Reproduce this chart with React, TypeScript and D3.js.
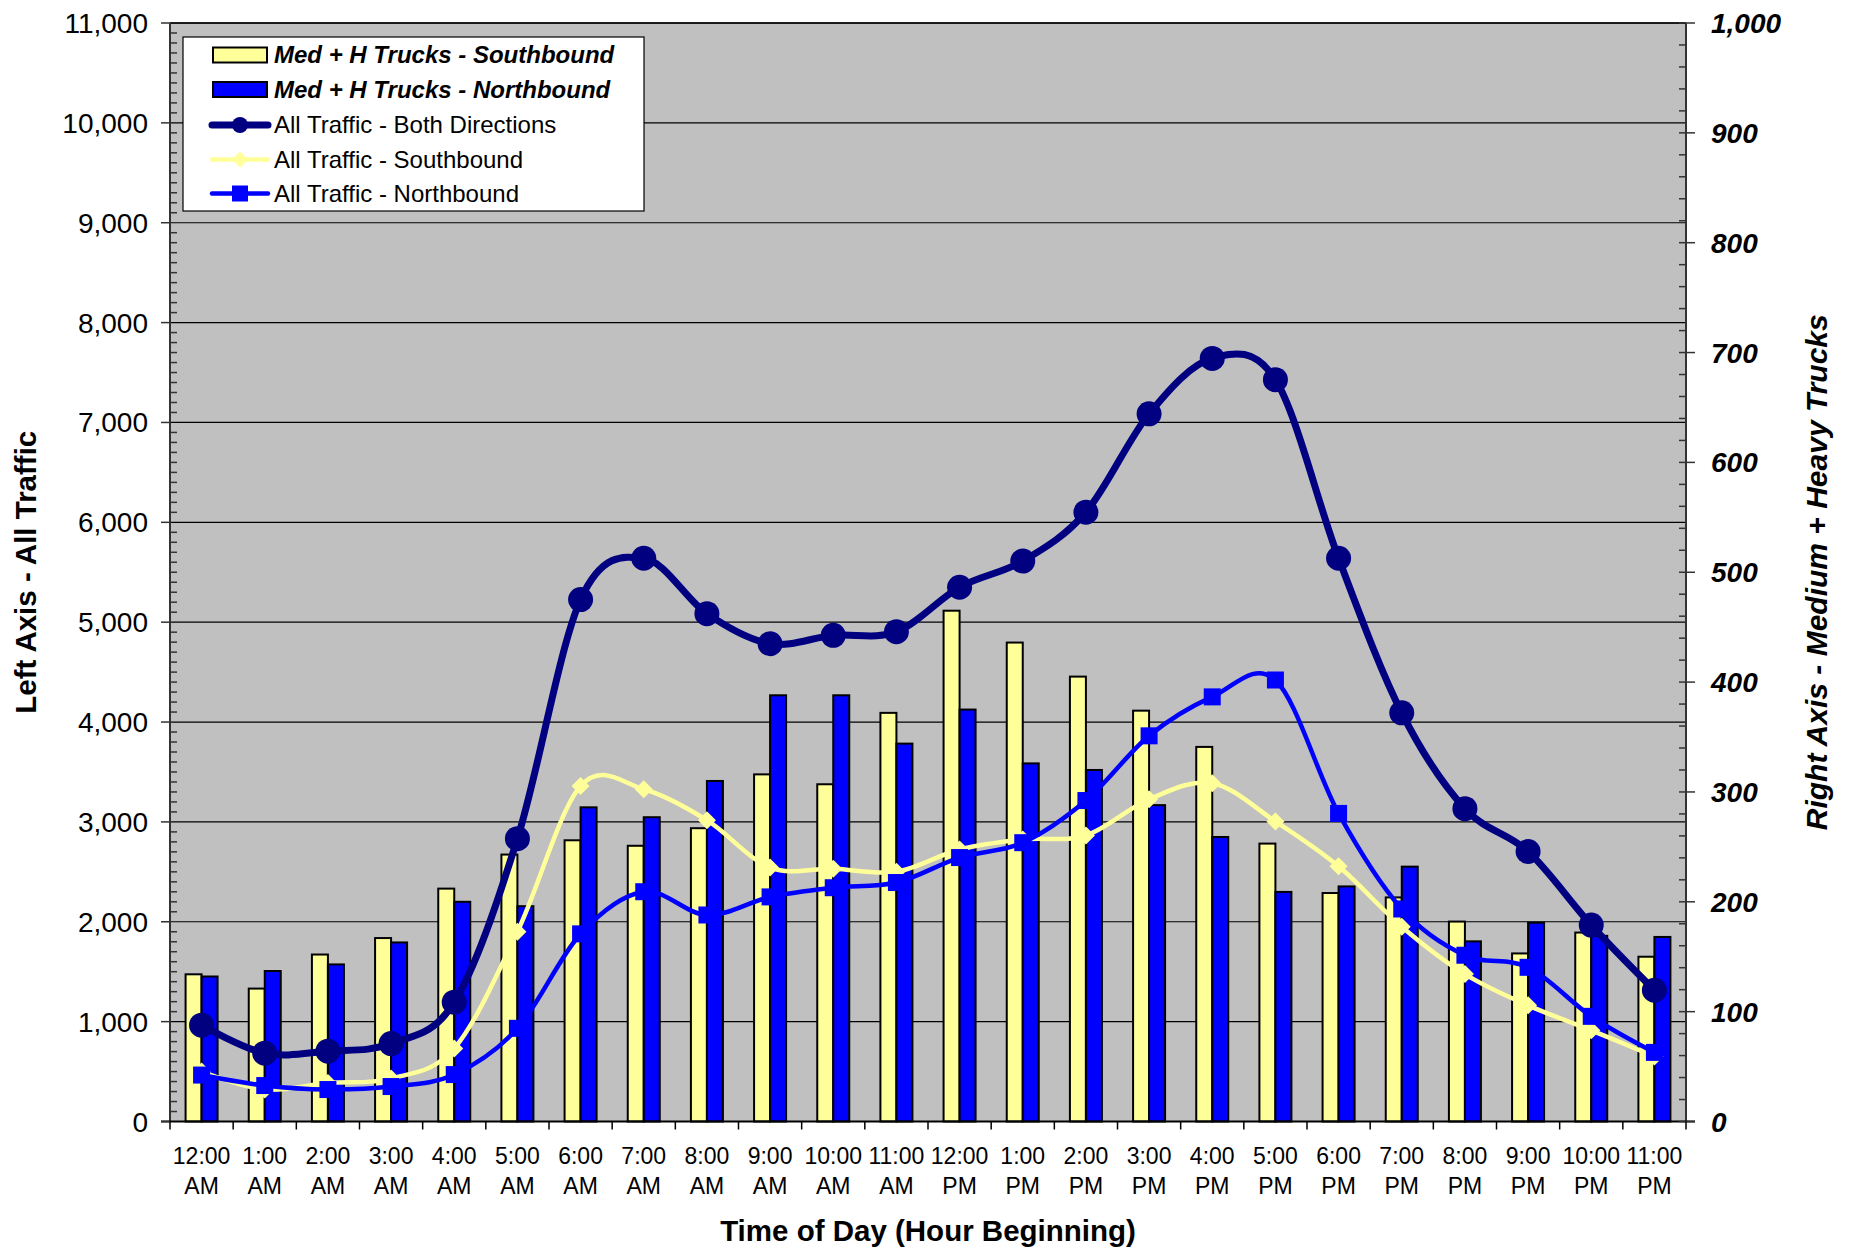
import React from 'react';
import * as d3 from 'd3';

const hourLabels = ['12:00','1:00','2:00','3:00','4:00','5:00','6:00','7:00','8:00','9:00','10:00','11:00','12:00','1:00','2:00','3:00','4:00','5:00','6:00','7:00','8:00','9:00','10:00','11:00'];
const periodLabels = ['AM','AM','AM','AM','AM','AM','AM','AM','AM','AM','AM','AM','PM','PM','PM','PM','PM','PM','PM','PM','PM','PM','PM','PM'];

// Right axis (trucks)
const trucksSouth = [134,121,152,167,212,243,256,251,267,316,307,372,465,436,405,374,341,253,208,204,182,153,172,150];
const trucksNorth = [132,137,143,163,200,196,286,277,310,388,388,344,375,326,320,288,259,209,214,232,164,181,169,168];

// Left axis (all traffic)
const allBoth = [965,684,704,780,1195,2832,5226,5640,5085,4784,4868,4904,5350,5612,6102,7086,7641,7428,5640,4092,3133,2704,1967,1315];
const allSouth = [500,320,385,430,732,1899,3359,3327,3017,2543,2531,2502,2724,2824,2864,3227,3388,3005,2555,1951,1476,1163,913,651];
const allNorth = [465,360,320,350,470,933,1879,2301,2068,2249,2341,2393,2643,2792,3214,3862,4252,4421,3085,2128,1665,1544,1053,692];

const leftTicks = d3.range(0, 11001, 1000);
const rightTicks = d3.range(0, 1001, 100);

const FONT = '"Liberation Sans", Arial, Helvetica, sans-serif';
const NAVY = '#000080';
const YEL = '#FFFF99';
const BLUE = '#0000FF';

export default function App() {
  const L = 170, R = 1686, T = 23, B = 1121.5;
  const idx = hourLabels.map((_, i) => i);
  const x = d3.scaleBand<number>().domain(idx).range([L, R]).padding(0);
  const cx = (i: number) => (x(i) as number) + x.bandwidth() / 2;
  const yL = d3.scaleLinear().domain([0, 11000]).range([B, T]);
  const yR = d3.scaleLinear().domain([0, 1000]).range([B, T]);
  const bw = 16;

  const curve = d3.curveCardinal.tension(0);
  const line = (vals: number[]) =>
    d3.line<number>().x((_, i) => cx(i)).y((v) => yL(v)).curve(curve)(vals) as string;

  const leftMinor = d3.range(0, 11001, 100).filter((v) => v % 1000 !== 0);
  const rightMinor = d3.range(0, 1001, 20).filter((v) => v % 100 !== 0);

  const diamond = (px: number, py: number, r: number) =>
    `M${px},${py - r}L${px + r},${py}L${px},${py + r}L${px - r},${py}Z`;

  const legendRows = [55, 89.5, 125, 159.5, 193.5];

  return (
    <svg width={1849} height={1249} style={{ position: 'absolute', left: 0, top: 0, background: '#fff' }} fontFamily={FONT}>
      {/* plot background */}
      <rect x={L} y={T} width={R - L} height={B - T} fill="#C0C0C0" />
      {/* gridlines */}
      {leftTicks.map((v) => (
        <line key={'g' + v} x1={L} x2={R} y1={yL(v)} y2={yL(v)} stroke="#000" strokeWidth={1.2} />
      ))}
      {/* bars */}
      {idx.map((i) => (
        <g key={'b' + i}>
          <rect x={cx(i) - bw} y={yR(trucksSouth[i])} width={bw} height={B - yR(trucksSouth[i])} fill={YEL} stroke="#000" strokeWidth={2} />
          <rect x={cx(i)} y={yR(trucksNorth[i])} width={bw} height={B - yR(trucksNorth[i])} fill={BLUE} stroke="#000" strokeWidth={2} />
        </g>
      ))}
      {/* lines */}
      <path d={line(allBoth)} fill="none" stroke={NAVY} strokeWidth={7} />
      {allBoth.map((v, i) => (
        <circle key={'c' + i} cx={cx(i)} cy={yL(v)} r={12.5} fill={NAVY} />
      ))}
      <path d={line(allSouth)} fill="none" stroke={YEL} strokeWidth={4.5} />
      {allSouth.map((v, i) => (
        <path key={'d' + i} d={diamond(cx(i), yL(v), 9)} fill={YEL} />
      ))}
      <path d={line(allNorth)} fill="none" stroke={BLUE} strokeWidth={4.5} />
      {allNorth.map((v, i) => (
        <rect key={'s' + i} x={cx(i) - 8.5} y={yL(v) - 8.5} width={17} height={17} fill={BLUE} />
      ))}

      {/* axes */}
      <line x1={L} x2={R} y1={T} y2={T} stroke="#000" strokeWidth={1.5} />
      <line x1={L} x2={L} y1={T} y2={B} stroke="#333" strokeWidth={2} />
      <line x1={R} x2={R} y1={T} y2={B} stroke="#333" strokeWidth={2} />
      <line x1={L - 9} x2={R + 9} y1={B} y2={B} stroke="#000" strokeWidth={2} />
      {leftTicks.map((v) => (
        <line key={'lt' + v} x1={L - 9} x2={L} y1={yL(v)} y2={yL(v)} stroke="#333" strokeWidth={1.5} />
      ))}
      {leftMinor.map((v) => (
        <line key={'lm' + v} x1={L} x2={L + 7} y1={yL(v)} y2={yL(v)} stroke="#333" strokeWidth={1.5} />
      ))}
      {rightTicks.map((v) => (
        <line key={'rt' + v} x1={R - 7} x2={R + 9} y1={yR(v)} y2={yR(v)} stroke="#333" strokeWidth={1.5} />
      ))}
      {rightMinor.map((v) => (
        <line key={'rm' + v} x1={R - 7} x2={R} y1={yR(v)} y2={yR(v)} stroke="#333" strokeWidth={1.5} />
      ))}
      {d3.range(0, 25).map((k) => (
        <line key={'xt' + k} x1={L + k * x.bandwidth()} x2={L + k * x.bandwidth()} y1={B} y2={B + 8} stroke="#000" strokeWidth={1.5} />
      ))}

      {/* left tick labels */}
      {leftTicks.map((v) => (
        <text key={'ll' + v} x={148} y={yL(v) + 10} textAnchor="end" fontSize={28} fill="#000">
          {d3.format(',')(v)}
        </text>
      ))}
      {/* right tick labels */}
      {rightTicks.map((v) => (
        <text key={'rl' + v} x={1711} y={yR(v) + 10} textAnchor="start" fontSize={28} fontWeight="bold" fontStyle="italic" fill="#000">
          {d3.format(',')(v)}
        </text>
      ))}
      {/* x labels */}
      {idx.map((i) => (
        <g key={'xl' + i}>
          <text x={cx(i)} y={1164} textAnchor="middle" fontSize={23} fill="#000">{hourLabels[i]}</text>
          <text x={cx(i)} y={1194} textAnchor="middle" fontSize={23} fill="#000">{periodLabels[i]}</text>
        </g>
      ))}

      {/* titles */}
      <text x={(L + R) / 2} y={1241} textAnchor="middle" fontSize={29.5} fontWeight="bold">Time of Day (Hour Beginning)</text>
      <text transform={`translate(36, ${(T + B) / 2}) rotate(-90)`} textAnchor="middle" fontSize={29.5} fontWeight="bold">Left Axis - All Traffic</text>
      <text transform={`translate(1827, ${(T + B) / 2}) rotate(-90)`} textAnchor="middle" fontSize={30} fontWeight="bold" fontStyle="italic">Right Axis - Medium + Heavy Trucks</text>

      {/* legend */}
      <rect x={183} y={37} width={461} height={174} fill="#fff" stroke="#000" strokeWidth={1.2} />
      <rect x={213} y={legendRows[0] - 7.5} width={54} height={15} fill={YEL} stroke="#000" strokeWidth={2} />
      <text x={274} y={legendRows[0] + 8} fontSize={24} fontWeight="bold" fontStyle="italic">Med + H Trucks - Southbound</text>
      <rect x={213} y={legendRows[1] - 7.5} width={54} height={15} fill={BLUE} stroke="#000" strokeWidth={2} />
      <text x={274} y={legendRows[1] + 8} fontSize={24} fontWeight="bold" fontStyle="italic">Med + H Trucks - Northbound</text>
      <line x1={212} x2={268} y1={legendRows[2]} y2={legendRows[2]} stroke={NAVY} strokeWidth={7} strokeLinecap="round" />
      <circle cx={240} cy={legendRows[2]} r={8} fill={NAVY} />
      <text x={274} y={legendRows[2] + 8} fontSize={24}>All Traffic - Both Directions</text>
      <line x1={212} x2={268} y1={legendRows[3]} y2={legendRows[3]} stroke={YEL} strokeWidth={4.5} strokeLinecap="round" />
      <path d={diamond(240, legendRows[3], 8)} fill={YEL} />
      <text x={274} y={legendRows[3] + 8} fontSize={24}>All Traffic - Southbound</text>
      <line x1={212} x2={268} y1={legendRows[4]} y2={legendRows[4]} stroke={BLUE} strokeWidth={4.5} strokeLinecap="round" />
      <rect x={232} y={legendRows[4] - 8} width={16} height={16} fill={BLUE} />
      <text x={274} y={legendRows[4] + 8} fontSize={24}>All Traffic - Northbound</text>
    </svg>
  );
}
